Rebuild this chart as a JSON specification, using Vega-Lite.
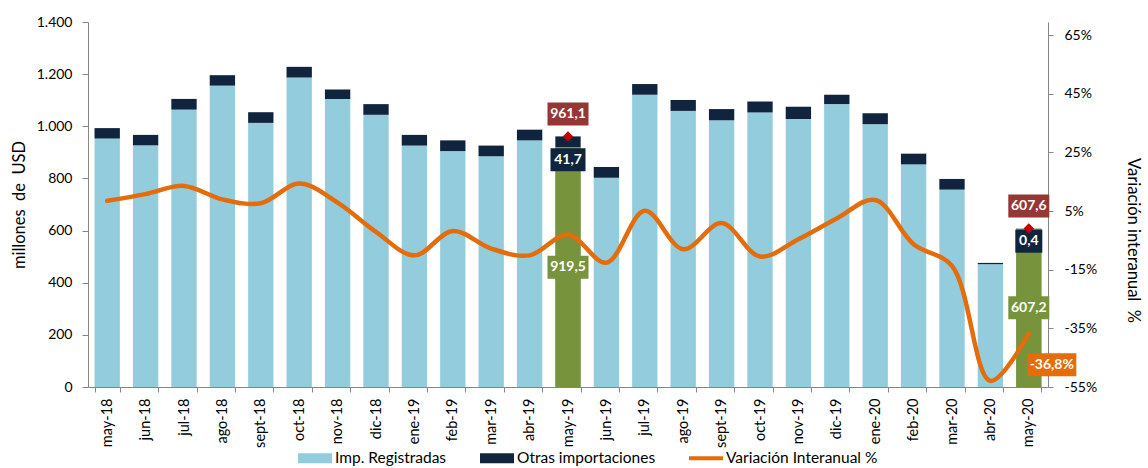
{
  "$schema": "https://vega.github.io/schema/vega-lite/v6.json",
  "width": 960,
  "height": 365,
  "autosize": {"type": "none"},
  "padding": {"left": 88, "top": 22, "right": 100, "bottom": 81},
  "background": "white",
  "config": {
    "view": {"stroke": null},
    "font": "Lato",
    "locale": {"number": {"decimal": ",", "thousands": ".", "grouping": [3], "currency": ["", " €"], "minus": "-"}},
    "axis": {"labelFont": "Lato", "titleFont": "Lato", "labelFontSize": 14, "titleFontSize": 16.5, "titleFontWeight": "normal", "labelColor": "#000000", "titleColor": "#000000", "domainColor": "#868686", "tickColor": "#868686", "grid": false},
    "text": {"font": "Lato"}
  },
  "data": {"values": [
    {"mes": "may-18", "reg": 953, "otras": 40, "var": 8.5},
    {"mes": "jun-18", "reg": 927, "otras": 40, "var": 10.8},
    {"mes": "jul-18", "reg": 1064, "otras": 41, "var": 13.6},
    {"mes": "ago-18", "reg": 1156, "otras": 40, "var": 9.0},
    {"mes": "sept-18", "reg": 1013, "otras": 41, "var": 7.7},
    {"mes": "oct-18", "reg": 1187, "otras": 41, "var": 14.4},
    {"mes": "nov-18", "reg": 1105, "otras": 36, "var": 7.9},
    {"mes": "dic-18", "reg": 1044, "otras": 41, "var": -2.1},
    {"mes": "ene-19", "reg": 926, "otras": 41, "var": -10.1},
    {"mes": "feb-19", "reg": 905, "otras": 41, "var": -1.8},
    {"mes": "mar-19", "reg": 885, "otras": 41, "var": -7.8},
    {"mes": "abr-19", "reg": 946, "otras": 41, "var": -10.1},
    {"mes": "may-19", "reg": 919.5, "otras": 41.7, "var": -3.0, "total": 961.1},
    {"mes": "jun-19", "reg": 803, "otras": 41, "var": -12.6},
    {"mes": "jul-19", "reg": 1121, "otras": 41, "var": 5.1},
    {"mes": "ago-19", "reg": 1059, "otras": 42, "var": -8.0},
    {"mes": "sept-19", "reg": 1023, "otras": 43, "var": 0.9},
    {"mes": "oct-19", "reg": 1053, "otras": 42, "var": -10.5},
    {"mes": "nov-19", "reg": 1028, "otras": 47, "var": -4.6},
    {"mes": "dic-19", "reg": 1085, "otras": 36, "var": 2.5},
    {"mes": "ene-20", "reg": 1008, "otras": 42, "var": 8.8},
    {"mes": "feb-20", "reg": 854, "otras": 41, "var": -6.3},
    {"mes": "mar-20", "reg": 757, "otras": 41, "var": -13.7},
    {"mes": "abr-20", "reg": 471, "otras": 5, "var": -52.9},
    {"mes": "may-20", "reg": 607.2, "otras": 0.4, "var": -36.8, "total": 607.6}
  ]},
  "encoding": {
    "x": {
      "field": "mes", "type": "nominal",
      "scale": {"domain": ["may-18","jun-18","jul-18","ago-18","sept-18","oct-18","nov-18","dic-18","ene-19","feb-19","mar-19","abr-19","may-19","jun-19","jul-19","ago-19","sept-19","oct-19","nov-19","dic-19","ene-20","feb-20","mar-20","abr-20","may-20"], "paddingInner": 0.34, "paddingOuter": 0.17},
      "axis": {"title": null, "labelAngle": -90, "tickBand": "extent", "tickSize": 5, "labelPadding": 6, "labelFontSize": 14.5}
    }
  },
  "layer": [
    {
      "layer": [
        {
          "transform": [{"fold": ["reg", "otras"], "as": ["serie", "valor"]}],
          "mark": {"type": "bar"},
          "encoding": {
            "y": {"field": "valor", "type": "quantitative", "stack": "zero",
              "scale": {"domain": [0, 1400], "nice": false},
              "axis": {"title": "millones\u00a0\u00a0de\u00a0\u00a0USD", "values": [0,200,400,600,800,1000,1200,1400], "format": ",.0f", "tickSize": 6, "labelPadding": 10, "titlePadding": 9}},
            "color": {"field": "serie", "type": "nominal",
              "scale": {"domain": ["reg", "otras", "var"], "range": ["#93cddd", "#10243e", "#e46c0a"]},
              "legend": {
                "title": null, "orient": "none", "legendX": 210, "legendY": 419, "direction": "horizontal",
                "labelExpr": "datum.label == 'reg' ? 'Imp. Registradas' : datum.label == 'otras' ? 'Otras importaciones' : 'Variación Interanual %'",
                "labelFont": "Lato", "labelFontSize": 15.5, "labelColor": "#000000", "symbolSize": 1156, "labelOffset": 3, "columnPadding": 33,
                "encode": {"symbols": {"update": {
                  "shape": {"signal": "datum.value == 'var' ? 'M-1,-0.12H1V0.12H-1Z' : 'M-1,-0.3H1V0.3H-1Z'"},
                  "fill": {"scale": "color", "field": "value"},
                  "stroke": {"value": "transparent"},
                  "strokeWidth": {"value": 0},
                  "opacity": {"value": 1}
                }}}
              }},
            "order": {"field": "serie", "sort": "descending"}
          }
        },
        {
          "transform": [{"filter": {"field": "mes", "oneOf": ["may-19", "may-20"]}}],
          "mark": {"type": "bar", "color": "#77933c"},
          "encoding": {"y": {"field": "reg", "type": "quantitative", "title": "millones\u00a0\u00a0de\u00a0\u00a0USD"}}
        },
        {
          "transform": [{"filter": {"field": "mes", "oneOf": ["may-19", "may-20"]}}],
          "mark": {"type": "point", "shape": "M-1,-0.561H1V0.561H-1Z", "size": 1681, "filled": true, "fill": "#953735", "opacity": 1, "strokeWidth": 0, "yOffset": -22.5},
          "encoding": {"y": {"field": "total", "type": "quantitative", "title": "millones\u00a0\u00a0de\u00a0\u00a0USD"}}
        },
        {
          "transform": [{"filter": {"field": "mes", "oneOf": ["may-19", "may-20"]}}],
          "mark": {"type": "text", "color": "#ffffff", "fontWeight": "bold", "fontSize": 14, "align": "center", "baseline": "middle", "yOffset": -22.5},
          "encoding": {"y": {"field": "total", "type": "quantitative", "title": "millones\u00a0\u00a0de\u00a0\u00a0USD"}, "text": {"field": "total", "type": "quantitative", "format": ".1f"}}
        },
        {
          "transform": [{"filter": {"field": "mes", "equal": "may-19"}}],
          "mark": {"type": "point", "shape": "M-1,-0.657H1V0.657H-1Z", "size": 1225, "filled": true, "fill": "#10243e", "opacity": 1, "strokeWidth": 0, "yOffset": 12.5},
          "encoding": {"y": {"field": "reg", "type": "quantitative", "title": "millones\u00a0\u00a0de\u00a0\u00a0USD"}}
        },
        {
          "transform": [{"filter": {"field": "mes", "equal": "may-20"}}],
          "mark": {"type": "point", "shape": "M-1,-0.852H1V0.852H-1Z", "size": 729, "filled": true, "fill": "#10243e", "opacity": 1, "strokeWidth": 0, "yOffset": 12.5},
          "encoding": {"y": {"field": "reg", "type": "quantitative", "title": "millones\u00a0\u00a0de\u00a0\u00a0USD"}}
        },
        {
          "transform": [{"filter": {"field": "mes", "oneOf": ["may-19", "may-20"]}}],
          "mark": {"type": "text", "color": "#ffffff", "fontWeight": "bold", "fontSize": 14, "align": "center", "baseline": "middle", "yOffset": 12.5},
          "encoding": {"y": {"field": "reg", "type": "quantitative", "title": "millones\u00a0\u00a0de\u00a0\u00a0USD"}, "text": {"field": "otras", "type": "quantitative", "format": ".1f"}}
        },
        {
          "transform": [{"filter": {"field": "mes", "oneOf": ["may-19", "may-20"]}}],
          "mark": {"type": "point", "shape": "diamond", "size": 110, "filled": true, "fill": "#c00000", "opacity": 1, "strokeWidth": 0},
          "encoding": {"y": {"field": "total", "type": "quantitative", "title": "millones\u00a0\u00a0de\u00a0\u00a0USD"}}
        }
      ]
    },
    {
      "layer": [
        {
          "mark": {"type": "line", "interpolate": "catmull-rom", "strokeWidth": 4.5, "strokeCap": "round"},
          "encoding": {
            "y": {"field": "var", "type": "quantitative",
              "scale": {"domain": [-55, 69.5], "nice": false, "zero": false},
              "axis": {"orient": "right", "title": "Variación interanual\u00a0\u00a0%", "values": [-55,-35,-15,5,25,45,65], "labelExpr": "datum.value + '%'", "tickSize": 5, "labelPadding": 11, "titleAngle": 90, "titlePadding": 28, "titleY": 218}},
            "color": {"datum": "var", "type": "nominal"}
          }
        },
        {
          "transform": [{"filter": {"field": "mes", "equal": "may-20"}}],
          "mark": {"type": "point", "shape": "M-1,-0.469H1V0.469H-1Z", "size": 2401, "filled": true, "fill": "#e46c0a", "opacity": 1, "strokeWidth": 0, "xOffset": 23, "yOffset": 31},
          "encoding": {"y": {"field": "var", "type": "quantitative", "title": "Variación interanual\u00a0\u00a0%"}}
        },
        {
          "transform": [{"filter": {"field": "mes", "equal": "may-20"}}],
          "mark": {"type": "text", "color": "#ffffff", "fontWeight": "bold", "fontSize": 14, "align": "center", "baseline": "middle", "xOffset": 23, "yOffset": 31,
            "text": {"expr": "replace(replace(format(datum['var'], '.1f'), '.', ','), '\u2212', '-') + '%'"}},
          "encoding": {"y": {"field": "var", "type": "quantitative", "title": "Variación interanual\u00a0\u00a0%"}}
        }
      ]
    },
    {
      "layer": [
        {
          "transform": [{"filter": {"field": "mes", "oneOf": ["may-19", "may-20"]}}],
          "mark": {"type": "point", "shape": "M-1,-0.561H1V0.561H-1Z", "size": 1681, "filled": true, "fill": "#77933c", "opacity": 1, "strokeWidth": 0},
          "encoding": {"y": {"field": "reg", "type": "quantitative", "scale": {"domain": [0, 2800], "nice": false}, "axis": null}}
        },
        {
          "transform": [{"filter": {"field": "mes", "oneOf": ["may-19", "may-20"]}}],
          "mark": {"type": "text", "color": "#ffffff", "fontWeight": "bold", "fontSize": 14, "align": "center", "baseline": "middle"},
          "encoding": {"y": {"field": "reg", "type": "quantitative", "axis": null}, "text": {"field": "reg", "type": "quantitative", "format": ".1f"}}
        }
      ]
    }
  ],
  "resolve": {"scale": {"y": "independent"}}
}
